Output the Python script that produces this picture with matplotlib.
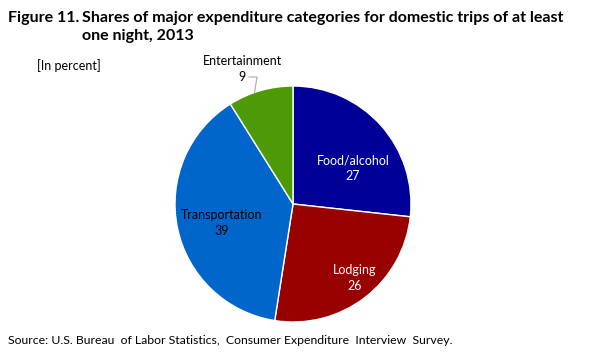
import numpy as np
import matplotlib.pyplot as plt

plt.rcParams["font.family"] = ["Lato", "DejaVu Sans"]

categories = ["Food/alcohol", "Lodging", "Transportation", "Entertainment"]
shares = [27, 26, 39, 9]
colors = ["#000099", "#990000", "#0066CC", "#4E9A06"]

W, H = 599, 359
fig = plt.figure(figsize=(W / 100, H / 100), dpi=100)

# pie centre / radius in pixels
cx, cy, r = 293, 204, 118
ax = fig.add_axes([(cx - r) / W, (H - cy - r) / H, 2 * r / W, 2 * r / H])
wedges, _ = ax.pie(shares, colors=colors, startangle=90, counterclock=False,
                   radius=1, wedgeprops=dict(edgecolor="white", linewidth=1))
ax.set_xlim(-1, 1)
ax.set_ylim(-1, 1)
ax.set_aspect("equal")
ax.axis("off")


def px(x, y):
    return (x - cx) / r, (cy - y) / r


lab_pos = {
    "Food/alcohol": (353, 168, "white"),
    "Lodging": (355, 278, "white"),
    "Transportation": (222, 223, "black"),
}
for name, val in zip(categories, shares):
    if name in lab_pos:
        x, y, c = lab_pos[name]
        ax.text(*px(x, y), f"{name}\n{val}", ha="center", va="center",
                color=c, fontsize=9, linespacing=1.35)

# Entertainment label outside with leader line
ent = wedges[3]
ang = np.deg2rad((ent.theta1 + ent.theta2) / 2 + 3)
ex, ey = np.cos(ang), np.sin(ang)
ax.text(*px(242, 61), "Entertainment", ha="center", va="center", fontsize=9,
        clip_on=False)
ax.text(*px(242, 77), str(shares[3]), ha="center", va="center", fontsize=9,
        clip_on=False)
x0, y0 = px(249, 77)
x1, y1 = px(257, 77)
ax.plot([x0, x1, ex * 1.0], [y0, y1, ey * 1.0], color="#aaaaaa", lw=0.8,
        clip_on=False)

fig.text(8 / W, 1 - 18 / H, "Figure 11.", fontsize=11.5, fontweight="bold",
         va="center")
fig.text(82 / W, 1 - 18 / H,
         "Shares of major expenditure categories for domestic trips of at least",
         fontsize=11.5, fontweight="bold", va="center")
fig.text(82 / W, 1 - 36 / H, "one night, 2013", fontsize=11.5, fontweight="bold",
         va="center")
fig.text(37 / W, 1 - 66 / H, "[In percent]", fontsize=9, va="center")
fig.text(8 / W, 1 - 341 / H,
         "Source: U.S. Bureau  of Labor Statistics,  Consumer Expenditure  Interview  Survey.",
         fontsize=8.8, va="center")

fig.savefig("out.png", dpi=100)
